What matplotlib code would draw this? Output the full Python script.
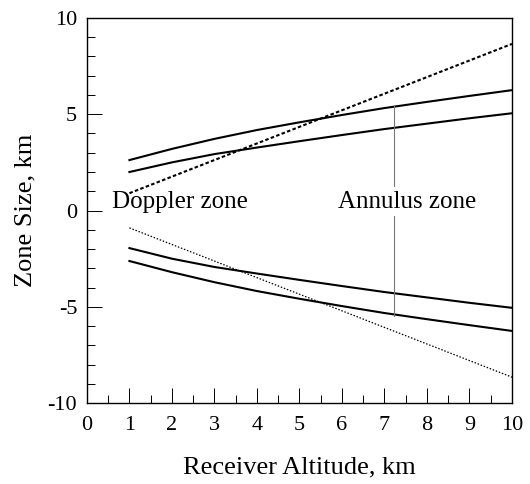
import numpy as np
import matplotlib
matplotlib.use('Agg')
import matplotlib.pyplot as plt
from matplotlib.ticker import MultipleLocator

matplotlib.rcParams['font.family'] = ['Liberation Serif', 'DejaVu Serif']
matplotlib.rcParams['axes.unicode_minus'] = False

# receiver altitude, km
altitude = [1, 2, 3, 4, 5, 6, 7, 8, 9, 10]

# annulus zone edges (outer / inner), upper and lower halves
annulus_outer_up = [2.62, 3.20, 3.72, 4.18, 4.58, 4.96, 5.32, 5.64, 5.95, 6.25]
annulus_inner_up = [2.00, 2.50, 2.93, 3.27, 3.60, 3.92, 4.23, 4.51, 4.79, 5.05]
annulus_inner_lo = [-1.95, -2.50, -2.93, -3.27, -3.60, -3.92, -4.23, -4.51, -4.79, -5.05]
annulus_outer_lo = [-2.62, -3.20, -3.72, -4.18, -4.58, -4.96, -5.32, -5.64, -5.95, -6.25]

# doppler zone edges
doppler_alt = [1, 10]
doppler_up = [0.9, 8.65]
doppler_lo = [-0.9, -8.65]

# marker for the annulus width at 7.2 km
mark_x = 7.22
mark_up = [5.44, 1.26]
mark_lo = [-0.3, -5.46]

fig = plt.figure(figsize=(5.3, 4.84), dpi=100)
ax = fig.add_axes([0.164, 0.167, 0.802, 0.796])

ax.plot(altitude, annulus_outer_up, color='black', lw=1.5)
ax.plot(altitude, annulus_inner_up, color='black', lw=1.5)
ax.plot(altitude, annulus_inner_lo, color='black', lw=1.5)
ax.plot(altitude, annulus_outer_lo, color='black', lw=1.5)
ax.plot(doppler_alt, doppler_up, color='black', lw=1.5, dashes=(1.7, 1.1))
ax.plot(doppler_alt, doppler_lo, color='black', lw=0.9, dashes=(1.2, 1.4))

ax.plot([mark_x, mark_x], mark_up, color='#777777', lw=0.8)
ax.plot([mark_x, mark_x], mark_lo, color='#777777', lw=0.8)

ax.text(0.59, 0.15, 'Doppler zone', fontsize=18, va='baseline', ha='left')
ax.text(5.9, 0.15, 'Annulus zone', fontsize=18, va='baseline', ha='left')

ax.set_xlim(0, 10)
ax.set_ylim(-10, 10)
ax.xaxis.set_major_locator(MultipleLocator(1))
ax.xaxis.set_minor_locator(MultipleLocator(0.5))
ax.yaxis.set_major_locator(MultipleLocator(5))
ax.yaxis.set_minor_locator(MultipleLocator(1))
ax.tick_params(which='both', direction='in', top=False, right=False, width=0.7, labelsize=16)
ax.tick_params(which='major', length=11)
ax.tick_params(which='minor', length=6)
ax.tick_params(axis='x', pad=9)
ax.tick_params(axis='y', pad=7)
for sp in ax.spines.values():
    sp.set_linewidth(1.0)

ax.set_xlabel('Receiver Altitude, km', fontsize=19, labelpad=16)
ax.set_ylabel('Zone Size, km', fontsize=19, labelpad=8)

fig.savefig('out.png', dpi=100)
